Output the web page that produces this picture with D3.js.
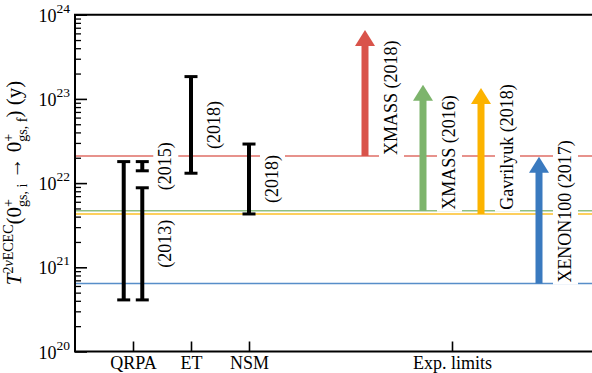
<!DOCTYPE html>
<html>
<head>
<meta charset="utf-8">
<script src="https://cdn.jsdelivr.net/npm/d3@7"></script>
<style>
  body { margin: 0; background: #fff; }
  text { font-family: "Liberation Serif", "Times New Roman", serif; }
</style>
</head>
<body>
<div id="chart"></div>
<script>
// x categories
var categories = ["QRPA", "ET", "NSM", "Exp. limits"];
var categoryPos = [1, 2, 3, 6.5];

// theory ranges (error bars)
var theoryX = [0.84, 1.16, 1.16, 2, 3];
var theoryLow = [4.1e20, 1.40e22, 4.1e20, 1.31e22, 4.3e21];
var theoryHigh = [1.8e22, 1.8e22, 8.8e21, 1.84e23, 2.91e22];
var theoryLabels = ["", "(2015)", "(2013)", "(2018)", "(2018)"];

// experimental lower limits (arrows + horizontal lines)
var expNames = ["XMASS (2018)", "XMASS (2016)", "Gavrilyuk (2018)", "XENON100 (2017)"];
var expX = [5, 6, 7, 8];
var expLimit = [2.1e22, 4.7e21, 4.3e21, 6.4e20];
var expArrowTop = [6.6e23, 1.47e23, 1.35e23, 2.06e22];
var expLabelAt = [2.1e22, 4.7e21, 4.7e21, 6.4e20];
var expColors = ["#d9534a", "#7db46c", "#fcb300", "#3a7abf"];

// y decades
var yDecades = [20, 21, 22, 23, 24];

var svgWidth = 592, svgHeight = 373;
var plotLeft = 75, plotTop = 14.7, plotBottom = 351.5;
var fontSize = 18;

var svg = d3.select("#chart")
  .append("svg")
  .attr("width", svgWidth)
  .attr("height", svgHeight);

var x = d3.scaleLinear().domain([0, 9]).range([plotLeft, 597]);
var y = d3.scaleLog().domain([1e20, 1e24]).range([plotBottom, plotTop]);

// horizontal limit lines
svg.append("g").selectAll("line")
  .data(expLimit)
  .enter()
  .append("line")
  .attr("x1", plotLeft)
  .attr("x2", svgWidth)
  .attr("y1", d => y(d))
  .attr("y2", d => y(d))
  .attr("stroke", (d, i) => expColors[i])
  .attr("stroke-opacity", 0.85)
  .attr("stroke-width", 1.5);

// error bars
var bars = svg.append("g");
theoryX.forEach(function(tx, i) {
  var cx = x(tx);
  bars.append("line")
    .attr("x1", cx).attr("x2", cx)
    .attr("y1", y(theoryLow[i])).attr("y2", y(theoryHigh[i]))
    .attr("stroke", "#000").attr("stroke-width", 4);
  [theoryLow[i], theoryHigh[i]].forEach(function(v) {
    bars.append("line")
      .attr("x1", cx - 6.5).attr("x2", cx + 6.5)
      .attr("y1", y(v)).attr("y2", y(v))
      .attr("stroke", "#000").attr("stroke-width", 3);
  });
});

// arrows
expX.forEach(function(ex, i) {
  var cx = x(ex), y0 = y(expLimit[i]), y1 = y(expArrowTop[i]);
  var shaft = 3.5, head = 10, headLen = 16;
  var p = d3.path();
  p.moveTo(cx - shaft, y0);
  p.lineTo(cx - shaft, y1 + headLen);
  p.lineTo(cx - head, y1 + headLen);
  p.lineTo(cx, y1);
  p.lineTo(cx + head, y1 + headLen);
  p.lineTo(cx + shaft, y1 + headLen);
  p.lineTo(cx + shaft, y0);
  p.closePath();
  svg.append("path").attr("d", p.toString()).attr("fill", expColors[i]);
});

// rotated label with white box
function boxLabel(tx, ty, str, anchor) {
  var g = svg.append("g").attr("transform", `translate(${tx}, ${ty}) rotate(-90)`);
  var rect = g.append("rect").attr("fill", "#fff");
  var t = g.append("text")
    .attr("text-anchor", anchor)
    .attr("font-size", fontSize)
    .attr("fill", "#000")
    .text(str);
  var bb = t.node().getBBox();
  var pad = 2;
  rect.attr("x", bb.x - pad).attr("y", bb.y - pad)
    .attr("width", bb.width + 2 * pad).attr("height", bb.height + 2 * pad);
}

theoryLabels.forEach(function(lab, i) {
  if (!lab) return;
  var mid = Math.sqrt(theoryLow[i] * theoryHigh[i]);
  boxLabel(x(theoryX[i]) + 29, y(mid), lab, "middle");
});

expNames.forEach(function(lab, i) {
  boxLabel(x(expX[i]) + 32, y(expLabelAt[i]) - 1, lab, "start");
});

// y axis ticks (inward)
var minors = [];
for (var e = 20; e < 24; e++) {
  for (var m = 2; m <= 9; m++) minors.push(m * Math.pow(10, e));
}
svg.append("g")
  .attr("transform", `translate(${plotLeft}, 0)`)
  .call(d3.axisLeft(y).tickValues(minors).tickSize(-6).tickFormat(""))
  .call(g => g.select(".domain").remove())
  .call(g => g.selectAll("line").attr("stroke-width", 1.3));
svg.append("g")
  .attr("transform", `translate(${plotLeft}, 0)`)
  .call(d3.axisLeft(y).tickValues(yDecades.map(d => Math.pow(10, d))).tickSize(-12).tickFormat(""))
  .call(g => g.select(".domain").remove())
  .call(g => g.selectAll("line").attr("stroke-width", 1.6));

// y tick labels 10^n
yDecades.forEach(function(d) {
  var t = svg.append("text")
    .attr("x", 70)
    .attr("y", y(Math.pow(10, d)) + 7)
    .attr("text-anchor", "end")
    .attr("font-size", fontSize);
  t.append("tspan").text("10");
  t.append("tspan").attr("font-size", 13.5).attr("dy", -9).text(d);
});

// x axis
svg.append("g")
  .attr("transform", `translate(0, ${plotBottom})`)
  .call(d3.axisBottom(x).tickValues(categoryPos).tickSize(-10).tickPadding(5)
    .tickFormat((d, i) => categories[i]))
  .call(g => g.select(".domain").remove())
  .call(g => g.selectAll("line").attr("stroke-width", 1.6))
  .call(g => g.selectAll("text").attr("font-size", fontSize).attr("font-family", "Liberation Serif, serif"));

// spines
svg.append("path")
  .attr("d", `M${svgWidth},${plotTop}H${plotLeft}V${plotBottom}H${svgWidth}`)
  .attr("fill", "none")
  .attr("stroke", "#000")
  .attr("stroke-width", 2);

// y axis title with sub/superscripts
var titleParts = [
  { t: "T", s: 21, b: 0, it: true },
  { t: "2", s: 14, b: -8 },
  { t: "ν", s: 14, b: -8, it: true },
  { t: "ECEC", s: 14, b: -8 },
  { t: "(0", s: 21, b: 0 },
  { t: "+", s: 14, b: -8 },
  { t: "gs, i", s: 14, b: 5.5, stack: true },
  { t: " → 0", s: 21, b: 0 },
  { t: "+", s: 14, b: -8 },
  { t: "gs, f", s: 14, b: 5.5, stack: true },
  { t: ") (y)", s: 21, b: 0 }
];
var title = svg.append("g").attr("transform", "translate(21, 183) rotate(-90)");
var inner = title.append("g");
var cursor = 0, lastX = 0, lastW = 0;
titleParts.forEach(function(p) {
  var px = p.stack ? lastX : cursor;
  var t = inner.append("text")
    .attr("x", px)
    .attr("y", p.b)
    .attr("font-size", p.s)
    .attr("font-style", p.it ? "italic" : "normal")
    .style("white-space", "pre")
    .text(p.t);
  var w = t.node().getComputedTextLength();
  if (p.stack) {
    cursor = px + Math.max(w, lastW);
  } else {
    lastX = px; lastW = w;
    cursor = px + w;
  }
});
inner.attr("transform", `translate(${-cursor / 2}, 0)`);
</script>
</body>
</html>
